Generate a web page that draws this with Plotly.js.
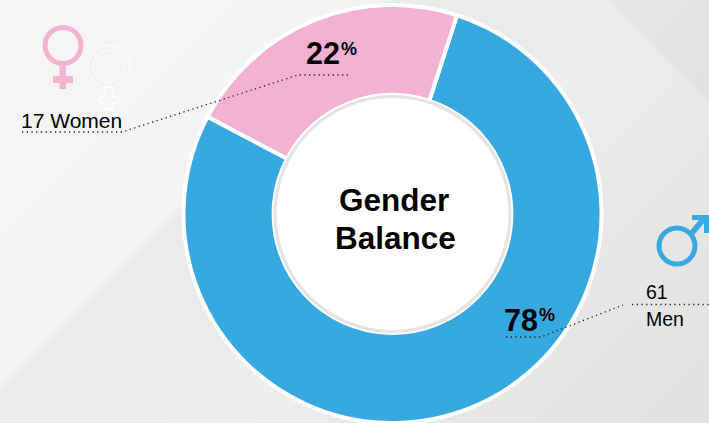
<!DOCTYPE html>
<html><head><meta charset="utf-8">
<script src="https://cdn.plot.ly/plotly-3.0.1.min.js"></script>
<style>
html,body{margin:0;padding:0;width:709px;height:423px;overflow:hidden;
background:
 linear-gradient(45deg,rgba(0,0,0,0) 90.5%,rgba(0,0,0,0.03) 91.5%),
 linear-gradient(135deg,#f6f6f6 0%,#f3f3f3 33.5%,#ebebeb 35%,#ebebeb 51%,#efefef 53.5%,#e9e9e9 70%,#e1e1e1 100%);}
#chart{width:709px;height:430px;}
</style></head><body><div id="chart"></div>
<script>
const categories = ['Men', 'Women'];
const sliceValues = [77.7, 22.3];
const percents = [78, 22];
const counts = [61, 17];
const sliceColors = ['#36a9e1', '#f4b2d3'];

const W = 709, H = 430;
const px = x => x / W, py = y => 1 - y / H;
const cx = 392.5, cy = 214;

function circle(x, y, r, line, lw, fill) {
  return {type:'circle', xref:'paper', yref:'paper', x0:px(x-r), x1:px(x+r), y0:py(y+r), y1:py(y-r),
    line:{color:line, width:lw}, fillcolor:fill || 'rgba(0,0,0,0)'};
}
function rect(x0, y0, x1, y1, fill) {
  return {type:'rect', xref:'paper', yref:'paper', x0:px(x0), x1:px(x1), y0:py(y1), y1:py(y0),
    line:{width:0}, fillcolor:fill};
}
function dotted(pts) {
  const path = pts.map((p,i) => (i ? 'L' : 'M') + px(p[0]) + ',' + py(p[1])).join(' ');
  return {type:'path', xref:'paper', yref:'paper', path, line:{color:'#222', width:1.3, dash:'1.3px,3.4px'}};
}
function poly(pts, fill, line) {
  const path = pts.map((p,i) => (i ? 'L' : 'M') + px(p[0]) + ',' + py(p[1])).join(' ') + ' Z';
  return {type:'path', xref:'paper', yref:'paper', path, line: line ? {color:line, width:1} : {width:0}, fillcolor:fill};
}
const blue = sliceColors[0], pink = sliceColors[1];
const shapes = [
  // centre disc
  circle(cx, cy, 119.5, '#ffffff', 1, '#ffffff'),
  circle(cx, cy, 117.5, '#e4e4e4', 3, '#ffffff'),
  // pale female sign
  circle(109, 66.5, 21, '#ffffff', 1),
  circle(109, 66.5, 16, 'rgba(255,255,255,0.7)', 1),
  poly([[105,87],[113,87],[113,97],[119,97],[119,103],[113,103],[113,109],[105,109],[105,103],[99,103],[99,97],[105,97]], 'rgba(255,255,255,0.1)', '#ffffff'),
  // pink female sign
  circle(63, 45.5, 18, pink, 5),
  rect(59.5, 65, 66, 89, pink),
  rect(53, 76, 73, 83, pink),
  // male sign
  circle(677, 246, 18, blue, 5),
  poly([[692,215],[709,215],[709,233],[704,233],[704,223],[694,235],[690,231],[699,220],[692,220]], blue),
  // leader lines
  dotted([[22,132],[122,132],[298,75],[348,75]]),
  dotted([[506,337],[541,337],[623,305]]),
  dotted([[632,304.5],[709,304.5]])
];
const txt = (x, y, text, size, bold, anchor) => ({
  xref:'paper', yref:'paper', x:px(x), y:py(y), text: bold ? '<b>'+text+'</b>' : text, showarrow:false,
  xanchor:anchor || 'left', yanchor:'middle', align:anchor === 'center' ? 'center' : 'left',
  font:{family:'"Liberation Sans", Arial, sans-serif', size, color:'#000'}
});
const annotations = [
  txt(394, 200, 'Gender', 31.5, true, 'center'),
  txt(395, 238, 'Balance', 31.5, true, 'center'),
  txt(304, 52.5, String(percents[1]), 30.5, true),
  txt(339, 48.5, '%', 18, true),
  txt(501.5, 320, String(percents[0]), 30.5, true),
  txt(537, 315, '%', 18, true),
  txt(18.5, 120, counts[1] + ' Women', 21, false),
  txt(643.5, 292, String(counts[0]), 19.5, false),
  txt(643.5, 319, categories[0], 19.5, false)
];
Plotly.newPlot('chart', [{
  type:'pie', labels:categories, values:sliceValues, sort:false, direction:'clockwise', rotation:18,
  hole:0.569, textinfo:'none', hoverinfo:'label+percent',
  marker:{colors:sliceColors, line:{color:'#ffffff', width:4}},
  domain:{x:[(cx-209)/W,(cx+209)/W], y:[1-(cy+209)/H,1-(cy-209)/H]}
}], {
  width:W, height:H, margin:{l:0,r:0,t:0,b:0}, showlegend:false,
  paper_bgcolor:'rgba(0,0,0,0)', plot_bgcolor:'rgba(0,0,0,0)',
  shapes, annotations
}, {displayModeBar:false, staticPlot:true});
</script></body></html>
